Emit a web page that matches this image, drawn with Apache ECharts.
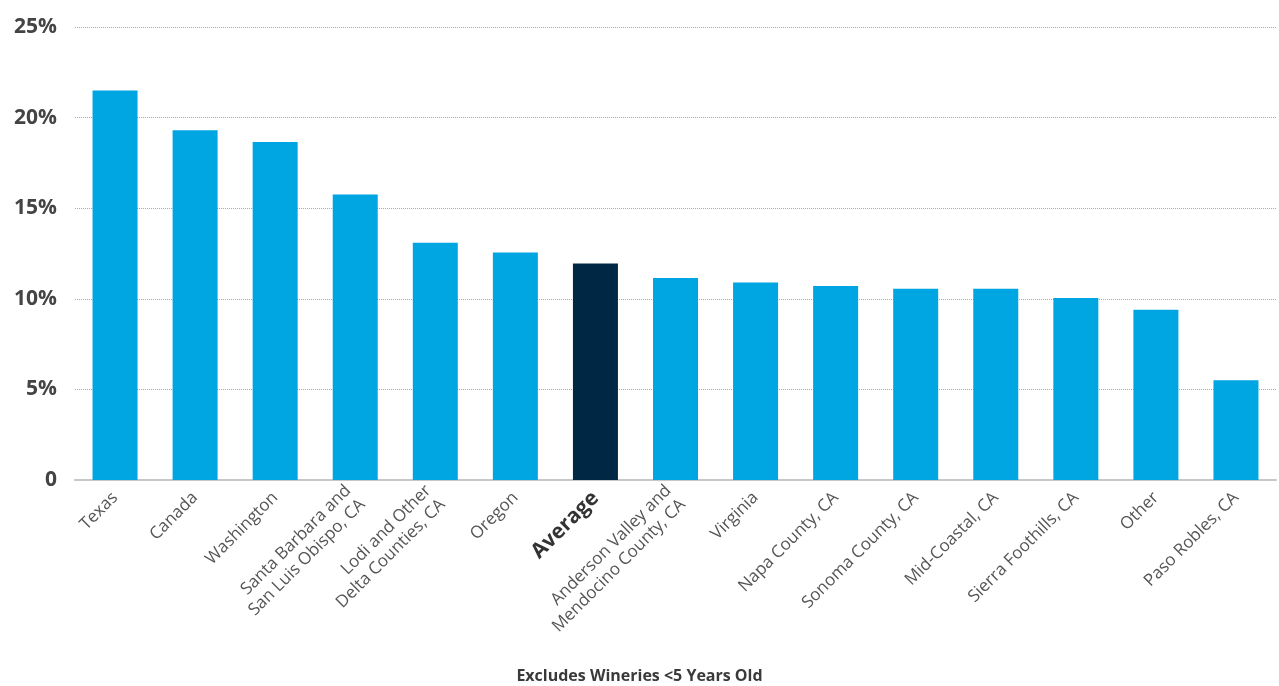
<!DOCTYPE html>
<html>
<head>
<meta charset="utf-8">
<script src="https://cdn.jsdelivr.net/npm/echarts@6/dist/echarts.min.js"></script>
<style>
html,body{margin:0;padding:0;background:#fff;}
#chart{width:1279px;height:686px;}
</style>
</head>
<body>
<div id="chart"></div>
<script>
const categories = [
  "Texas", "Canada", "Washington", "Santa Barbara and\nSan Luis Obispo, CA",
  "Lodi and Other\nDelta Counties, CA", "Oregon", "Average",
  "Anderson Valley and\nMendocino County, CA", "Virginia", "Napa County, CA",
  "Sonoma County, CA", "Mid-Coastal, CA", "Sierra Foothills, CA", "Other", "Paso Robles, CA"
];
const values = [21.5, 19.3, 18.65, 15.75, 13.1, 12.55, 11.95, 11.15, 10.9, 10.7, 10.55, 10.55, 10.05, 9.4, 5.5];
const highlightCategory = "Average";
const yTicks = [0, 5, 10, 15, 20, 25];
const footnote = "Excludes Wineries <5 Years Old";

const chart = echarts.init(document.getElementById('chart'), null, {renderer: 'canvas'});
chart.setOption({
  animation: false,
  backgroundColor: '#fff',
  grid: {left: 75, right: 3, top: 27, bottom: 206},
  title: {
    text: footnote,
    left: 'center',
    top: 663,
    textStyle: {fontFamily: 'Open Sans', fontWeight: 'bold', fontSize: 16, color: '#3a3a3a'}
  },
  xAxis: {
    type: 'category',
    data: categories,
    axisLine: {show: true, lineStyle: {color: '#c4c8ca', width: 2}},
    axisTick: {show: false},
    axisLabel: {
      rotate: 45,
      interval: 0,
      margin: 15,
      fontFamily: 'Open Sans',
      fontSize: 17,
      lineHeight: 20,
      color: '#555',
      formatter: function (v) { return v === highlightCategory ? '{b|' + v + '}' : v; },
      rich: {b: {fontFamily: 'Open Sans', fontWeight: 'bold', fontSize: 21, color: '#333'}}
    }
  },
  yAxis: {
    type: 'value',
    min: 0, max: 25, interval: 5,
    axisLine: {show: false},
    axisTick: {show: false},
    splitLine: {show: true, lineStyle: {color: '#aaaaaa', type: 'dotted', width: 1}},
    axisLabel: {
      margin: 18,
      fontFamily: 'Open Sans',
      fontWeight: 'bold',
      fontSize: 21,
      color: '#444',
      formatter: function (v) { return yTicks.indexOf(v) >= 0 ? (v === 0 ? '0' : v + '%') : ''; }
    }
  },
  series: [{
    type: 'bar',
    barWidth: 45,
    data: values.map(function (v, i) {
      return {value: v, itemStyle: {color: categories[i] === highlightCategory ? '#002845' : '#00a6e1'}};
    })
  }]
});
</script>
</body>
</html>
